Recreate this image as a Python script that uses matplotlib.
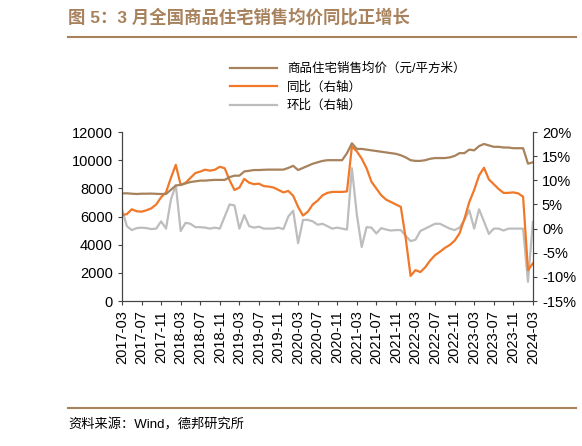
import matplotlib
matplotlib.use("Agg")
import matplotlib.pyplot as plt
import pandas as pd
import numpy as np

plt.rcParams['font.family'] = ['Liberation Sans', 'Noto Sans CJK SC', 'DejaVu Sans']

months = pd.date_range("2017-03-01", "2024-03-01", freq="MS").strftime("%Y-%m").tolist()

price = [7640,7650,7620,7600,7620,7620,7630,7610,7600,7600,
         7900,8200,8250,8350,8450,8500,8550,8550,8580,8600,8600,8600,
         8800,8900,8900,9200,9250,9300,9300,9320,9330,9330,9330,9330,
         9450,9600,9300,9450,9600,9750,9850,9950,10000,10000,10000,10000,
         10500,11200,10800,10800,10750,10700,10650,10600,10550,10500,10450,10350,
         10200,10000,9950,9950,10000,10100,10150,10150,10150,10200,10300,10500,
         10500,10750,10700,11000,11150,11050,10950,10950,10900,10900,10850,10850,
         10850,9750,9850]

yoy = [2.8,3.0,4.0,3.6,3.5,3.8,4.2,5.0,6.5,7.5,10.5,13.2,9.0,9.5,10.5,11.5,11.8,12.2,
       12.0,12.2,12.8,12.5,10.0,8.0,8.5,10.3,9.5,9.2,9.3,8.8,8.7,8.5,8.0,7.5,
       7.8,6.8,4.5,2.7,3.5,5.0,5.8,6.9,7.4,7.6,7.6,7.6,7.7,17.0,16.0,14.5,12.5,
       9.7,8.3,6.9,6.0,5.5,5.0,4.5,-2.0,-9.8,-8.6,-9.0,-8.0,-6.6,-5.5,-4.8,-4.0,
       -3.4,-2.5,-1.0,2.0,5.5,8.0,11.0,12.6,10.2,9.2,8.2,7.4,7.4,7.5,7.3,6.6,
       -8.6,-7.2]

mom = [4.0,0.5,-0.3,0.1,0.2,0.1,-0.1,0.0,1.5,0.0,6.0,9.0,-0.5,1.2,1.0,0.3,0.3,0.2,
       0.0,0.2,0.0,2.5,5.0,4.8,0.0,2.8,0.5,0.2,0.4,0.0,0.0,0.0,0.2,-0.1,
       2.5,3.7,-3.0,1.8,1.8,1.5,0.8,1.0,0.5,0.0,0.2,0.0,-0.2,12.5,3.0,-3.8,0.3,
       0.2,-1.0,0.1,-0.2,-0.4,-0.3,-0.3,-1.5,-2.6,-2.3,-0.5,0.0,0.5,1.0,1.0,0.5,
       0.0,-0.3,0.2,1.8,3.8,0.0,4.0,1.5,-1.1,0.0,0.0,-0.4,0.0,0.0,0.0,0.0,
       -11.0,1.4]

x = np.arange(len(months))
brown = '#A8825C'; orange = '#F07828'; grey = '#BDBDBD'

fig = plt.figure(figsize=(5.82, 4.46), dpi=100)
ax = fig.add_axes([0.2096, 0.325, 0.706, 0.379])
ax2 = ax.twinx()

l1, = ax.plot(x, price, color=brown, lw=1.6, label='商品住宅销售均价（元/平方米）')
l3, = ax2.plot(x, mom, color=grey, lw=1.6, label='环比（右轴）')
l2, = ax2.plot(x, yoy, color=orange, lw=1.6, label='同比（右轴）')
ax.set_zorder(ax2.get_zorder() + 1); ax.patch.set_visible(False)

ax.set_ylim(0, 12000); ax.set_yticks(range(0, 12001, 2000))
ax2.set_ylim(-15, 20); ax2.set_yticks(range(-15, 21, 5))
ax2.set_yticklabels([f"{v}%" for v in range(-15, 21, 5)])
ax.set_xlim(0, len(months) - 1)
ax.set_xticks(x[::4]); ax.set_xticklabels(months[::4], rotation=90)
for a in (ax, ax2):
    a.spines['top'].set_visible(False)
    a.tick_params(labelsize=10.5, length=3, color='#444444', direction='out')
    for s in ('left', 'right', 'bottom'):
        a.spines[s].set_color('#444444')

fig.legend(handles=[l1, l2, l3], loc='upper left', bbox_to_anchor=(0.375, 0.885),
           frameon=False, fontsize=9, handlelength=3.8, labelspacing=0.5)

fig.text(0.117, 0.962, '图 5：3 月全国商品住宅销售均价同比正增长', fontsize=12.5,
         fontweight='bold', color='#A8825C', va='center')
fig.add_artist(plt.Line2D([0.117, 0.99], [0.918, 0.918], color='#A8825C', lw=1.5))
fig.add_artist(plt.Line2D([0.117, 0.99], [0.085, 0.085], color='#A8825C', lw=1.5))
fig.text(0.117, 0.047, '资料来源：Wind，德邦研究所', fontsize=9.5, va='center')

fig.savefig('out.png', dpi=100)
